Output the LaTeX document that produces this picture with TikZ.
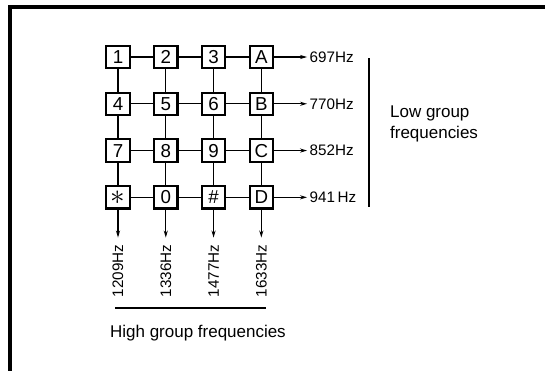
\documentclass[tikz,border=0pt]{standalone}
\usepackage{fontspec}
\setmainfont{Liberation Sans}
\usetikzlibrary{arrows.meta, positioning}

\begin{document}
\begin{tikzpicture}[
  node distance=0.67cm,
  every node/.style={font=\fontsize{14.5}{17.5}\selectfont},
  key/.style={rectangle, draw, line width=1.8pt, minimum width=0.7cm, minimum height=0.67cm, inner sep=0pt, font=\fontsize{16}{16}\selectfont},
  wire/.style={line width=0.9pt},
  arrow/.style={-{Stealth[length=6pt, width=3.5pt]}, line width=0.9pt},
  freq/.style={inner sep=2pt, font=\fontsize{13}{15}\selectfont},
]
\useasboundingbox (0,0) rectangle (16.35,-11.1);
\draw[line width=2.6pt] (0.3,-11.2) -- (0.3,-0.21) -- (16.45,-0.21);

\node[key] (k1) at (3.54,-1.71) {1};
\node[key, right=of k1] (k2) {2};
\node[key, right=of k2] (k3) {3};
\node[key, right=of k3] (kA) {A};
\node[key, below=of k1] (k4) {4};
\node[key, below=of k2] (k5) {5};
\node[key, below=of k3] (k6) {6};
\node[key, below=of kA] (kB) {B};
\node[key, below=of k4] (k7) {7};
\node[key, below=of k5] (k8) {8};
\node[key, below=of k6] (k9) {9};
\node[key, below=of kB] (kC) {C};
\node[key, below=of k7] (kstar) {\fontsize{24}{24}\selectfont$\ast$};
\node[key, below=of k8] (k0) {0};
\node[key, below=of k9] (khash) {\#};
\node[key, below=of kC] (kD) {D};

% rows
\draw[wire] (k1) -- (k2) (k2) -- (k3) (k3) -- (kA);
\draw[wire] (k4) -- (k5) (k5) -- (k6) (k6) -- (kB);
\draw[wire] (k7) -- (k8) (k8) -- (k9) (k9) -- (kC);
\draw[wire] (kstar) -- (k0) (k0) -- (khash) (khash) -- (kD);
% columns
\draw[wire] (k1) -- (k4) (k4) -- (k7) (k7) -- (kstar);
\draw[wire] (k2) -- (k5) (k5) -- (k8) (k8) -- (k0);
\draw[wire] (k3) -- (k6) (k6) -- (k9) (k9) -- (khash);
\draw[wire] (kA) -- (kB) (kB) -- (kC) (kC) -- (kD);

% low group
\node[freq, right=0.99cm of kA] (f697) {697Hz};
\node[freq, right=0.99cm of kB] (f770) {770Hz};
\node[freq, right=0.99cm of kC] (f852) {852Hz};
\node[freq, right=0.99cm of kD] (f941) {941\,Hz};
\draw[arrow] (kA) -- (f697);
\draw[arrow] (kB) -- (f770);
\draw[arrow] (kC) -- (f852);
\draw[arrow] (kD) -- (f941);

\coordinate (lotop) at (11.07,-1.74);
\coordinate (lobot) at (11.07,-6.21);
\draw[wire] (lotop) -- (lobot);
\node[anchor=west, align=left] (lowtxt) at (11.58,-3.72) {Low group\\frequencies};

% high group
\node[freq, inner sep=6pt, rotate=90, below=0.84cm of kstar, anchor=east] (f1209) {1209Hz};
\node[freq, inner sep=6pt, rotate=90, below=0.84cm of k0, anchor=east] (f1336) {1336Hz};
\node[freq, inner sep=6pt, rotate=90, below=0.84cm of khash, anchor=east] (f1477) {1477Hz};
\node[freq, inner sep=6pt, rotate=90, below=0.84cm of kD, anchor=east] (f1633) {1633Hz};
\draw[arrow] (kstar) -- (f1209);
\draw[arrow] (k0) -- (f1336);
\draw[arrow] (khash) -- (f1477);
\draw[arrow] (kD) -- (f1633);

\coordinate (hileft) at (3.45,-9.24);
\coordinate (hiright) at (7.98,-9.24);
\draw[wire] (hileft) -- (hiright);
\node[anchor=base west] (hightxt) at (3.18,-10.11) {High group frequencies};
\end{tikzpicture}
\end{document}
